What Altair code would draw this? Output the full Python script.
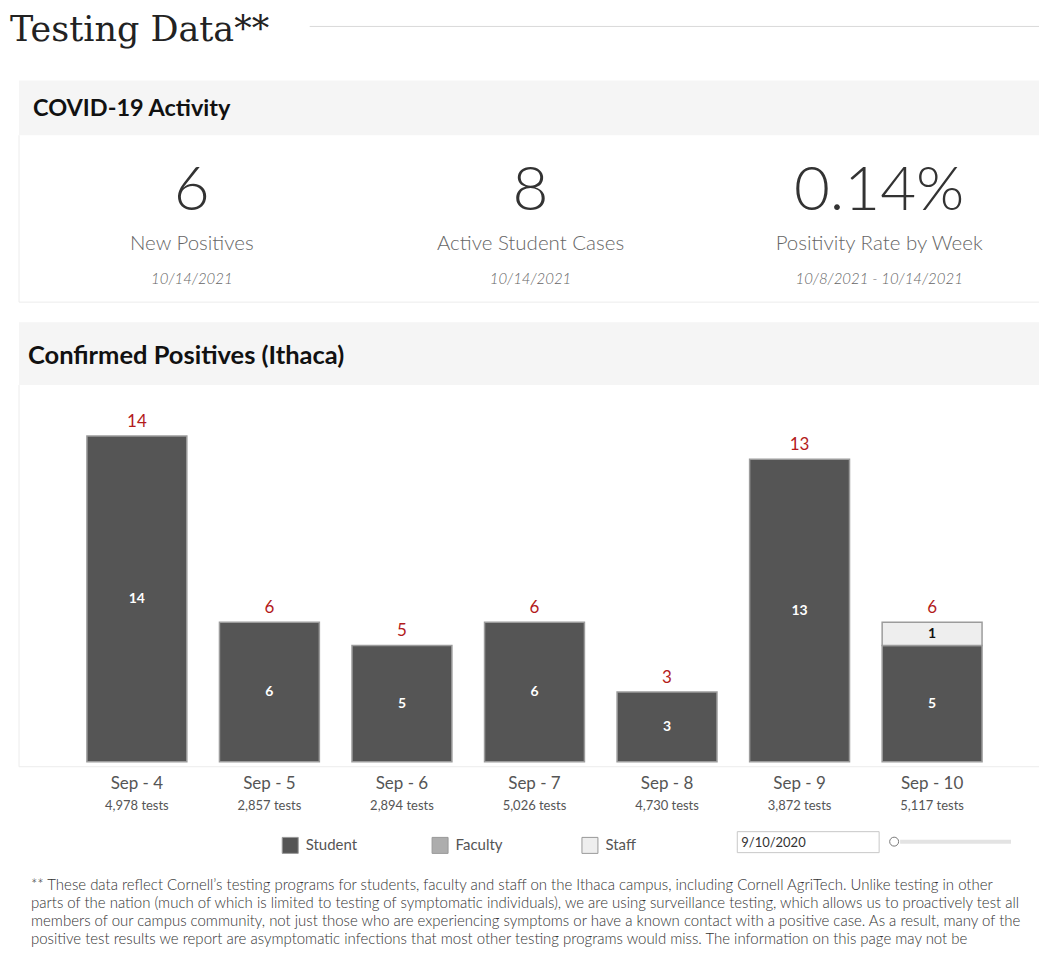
import altair as alt
import pandas as pd

# ---------------- data ----------------
dates = ["Sep - 4", "Sep - 5", "Sep - 6", "Sep - 7", "Sep - 8", "Sep - 9", "Sep - 10"]
tests = [4978, 2857, 2894, 5026, 4730, 3872, 5117]
student = [14, 6, 5, 6, 3, 13, 5]
faculty = [0, 0, 0, 0, 0, 0, 0]
staff = [0, 0, 0, 0, 0, 0, 1]
groups = ["Student", "Faculty", "Staff"]

kpi_values = ["6", "8", "0.14%"]
kpi_labels = ["New Positives", "Active Student Cases", "Positivity Rate by Week"]
kpi_dates = ["10/14/2021", "10/14/2021", "10/8/2021 - 10/14/2021"]

page_title = "Testing Data**"
section1 = "COVID-19 Activity"
section2 = "Confirmed Positives (Ithaca)"
date_input = "9/10/2020"
footer_lines = [
    "** These data reflect Cornell\u2019s testing programs for students, faculty and staff on the Ithaca campus, including Cornell AgriTech. Unlike testing in other",
    "parts of the nation (much of which is limited to testing of symptomatic individuals), we are using surveillance testing, which allows us to proactively test all",
    "members of our campus community, not just those who are experiencing symptoms or have a known contact with a positive case. As a result, many of the",
    "positive test results we report are asymptomatic infections that most other testing programs would miss. The information on this page may not be",
]

# ---------------- styles / layout ----------------
FONT = "Lato"
SERIF = "DejaVu Serif"
group_colors = ["#555555", "#adadad", "#eeeeee"]
W, H = 1032, 940

rows = []
for i, d in enumerate(dates):
    for r, (g, vals) in enumerate(zip(groups, [student, faculty, staff])):
        rows.append({"date": d, "group": g, "rank": r, "count": vals[i]})
df = pd.DataFrame(rows)
tests_df = pd.DataFrame({"date": dates, "tests": tests})
one = pd.DataFrame({"k": [0]})


def rect(x, x2, y, y2, **kw):
    return alt.Chart(one).mark_rect(**kw).encode(
        x=alt.value(x), x2=alt.value(x2), y=alt.value(y), y2=alt.value(y2))


def label(txt, x, y, **kw):
    return alt.Chart(one).mark_text(**kw).encode(
        x=alt.value(x), y=alt.value(y), text=alt.value(txt))


def hline(x, x2, y, **kw):
    return alt.Chart(one).mark_rule(**kw).encode(
        x=alt.value(x), x2=alt.value(x2), y=alt.value(y))


def vline(x, y, y2, **kw):
    return alt.Chart(one).mark_rule(**kw).encode(
        x=alt.value(x), y=alt.value(y), y2=alt.value(y2))


layers = []
# title
layers.append(label(page_title, 2, 33, font=SERIF, fontSize=35, color="#222",
                    align="left", baseline="alphabetic"))
layers.append(hline(302, W, 18, color="#d9d9d9", strokeWidth=1))

# panel 1
layers.append(rect(11, W, 72, 127, color="#f5f5f5"))
layers.append(label(section1, 25, 108, font=FONT, fontSize=23.5, fontWeight="bold",
                    color="#111", align="left", baseline="alphabetic"))
layers.append(vline(11, 127, 294, color="#ececec", strokeWidth=1))
layers.append(hline(11, W, 294, color="#ececec", strokeWidth=1))

kpi_x = [184, 523, 872]
for xv, v, lab, dt in zip(kpi_x, kpi_values, kpi_labels, kpi_dates):
    layers.append(label(v, xv, 202, font=FONT, fontSize=62, fontWeight=300,
                        color="#333", align="center", baseline="alphabetic"))
    layers.append(label(lab, xv, 242, font=FONT, fontSize=20.5, fontWeight=300,
                        color="#666", align="center", baseline="alphabetic"))
    layers.append(label(dt, xv, 276, font=FONT, fontSize=15, fontWeight=300,
                        fontStyle="italic", color="#666", align="center",
                        baseline="alphabetic"))

# panel 2
layers.append(rect(11, W, 314, 377, color="#f5f5f5"))
layers.append(label(section2, 20, 356, font=FONT, fontSize=25.5, fontWeight="bold",
                    color="#111", align="left", baseline="alphabetic"))
layers.append(vline(11, 377, 759, color="#ececec", strokeWidth=1))
layers.append(hline(11, W, 759, color="#ececec", strokeWidth=1))

x_enc = alt.X("date:N", sort=dates,
              scale=alt.Scale(domain=dates, range=[79, 975],
                              paddingInner=0.2462, paddingOuter=0),
              axis=None)
y_scale = alt.Scale(domain=[0, 14], range=[754, 428], nice=False, zero=True)

bars = alt.Chart(df).transform_filter("datum.count > 0").mark_bar(
    stroke="#9c9c9c", strokeWidth=1.5).encode(
    x=x_enc,
    y=alt.Y("count:Q", stack="zero", scale=y_scale, axis=None),
    color=alt.Color("group:N", scale=alt.Scale(domain=groups, range=group_colors),
                    legend=alt.Legend(orient="none", legendX=274, legendY=829,
                                      direction="horizontal", title=None,
                                      symbolType="square", symbolSize=256,
                                      symbolStrokeColor="#999",
                                      symbolStrokeWidth=1,
                                      labelFont=FONT, labelFontSize=15,
                                      labelColor="#555", labelOffset=7,
                                      columnPadding=72, gridAlign="all")),
    order=alt.Order("rank:Q", sort="ascending"),
)
layers.append(bars)

seg = alt.Chart(df).transform_filter("datum.count > 0").transform_stack(
    stack="count", groupby=["date"], as_=["y0", "y1"],
    sort=[alt.SortField("rank", order="ascending")]
).transform_calculate(mid="(datum.y0 + datum.y1) / 2").mark_text(
    font=FONT, fontSize=14, fontWeight="bold", baseline="middle").encode(
    x=x_enc,
    y=alt.Y("mid:Q", scale=y_scale, axis=None),
    text="count:Q",
    color=alt.condition("datum.group == 'Staff'", alt.value("#111"), alt.value("white")),
)
layers.append(seg)

tot = alt.Chart(df).transform_aggregate(
    total="sum(count)", groupby=["date"]).mark_text(
    font=FONT, fontSize=17, color="#b31b1b", dy=-9, baseline="alphabetic").encode(
    x=x_enc,
    y=alt.Y("total:Q", scale=y_scale, axis=None),
    text="total:Q",
)
layers.append(tot)

xl = alt.Chart(tests_df).mark_text(font=FONT, fontSize=17, color="#555",
                                   baseline="alphabetic").encode(
    x=x_enc, y=alt.value(781), text="date:N")
tl = alt.Chart(tests_df).transform_calculate(
    lbl="format(datum.tests, ',') + ' tests'").mark_text(
    font=FONT, fontSize=13, color="#555", baseline="alphabetic").encode(
    x=x_enc, y=alt.value(802), text="lbl:N")
layers += [xl, tl]

# date filter widget
layers.append(rect(730, 872, 824, 845, fill="white", stroke="#c8c8c8", strokeWidth=1))
layers.append(label(date_input, 734, 839, font=FONT, fontSize=13, color="#333",
                    align="left", baseline="alphabetic"))
layers.append(hline(893, 1004, 834, color="#e3e3e3", strokeWidth=4))
layers.append(alt.Chart(one).mark_point(shape="circle", size=80, filled=True,
                                        fill="white", stroke="#777",
                                        strokeWidth=1, opacity=1).encode(
    x=alt.value(887), y=alt.value(834)))

# footer
layers.append(alt.Chart(one).mark_text(
    font=FONT, fontSize=15, fontWeight=300, color="#333", align="left",
    baseline="top", lineBreak="\n", lineHeight=18, clip=True).encode(
    x=alt.value(23), y=alt.value(870), text=alt.value("\n".join(footer_lines))))

chart = alt.layer(*layers).properties(
    width=W, height=H, padding=0, background="white"
).configure_view(stroke=None)

chart.save("out.html", embed_options={"renderer": "svg", "actions": False})
